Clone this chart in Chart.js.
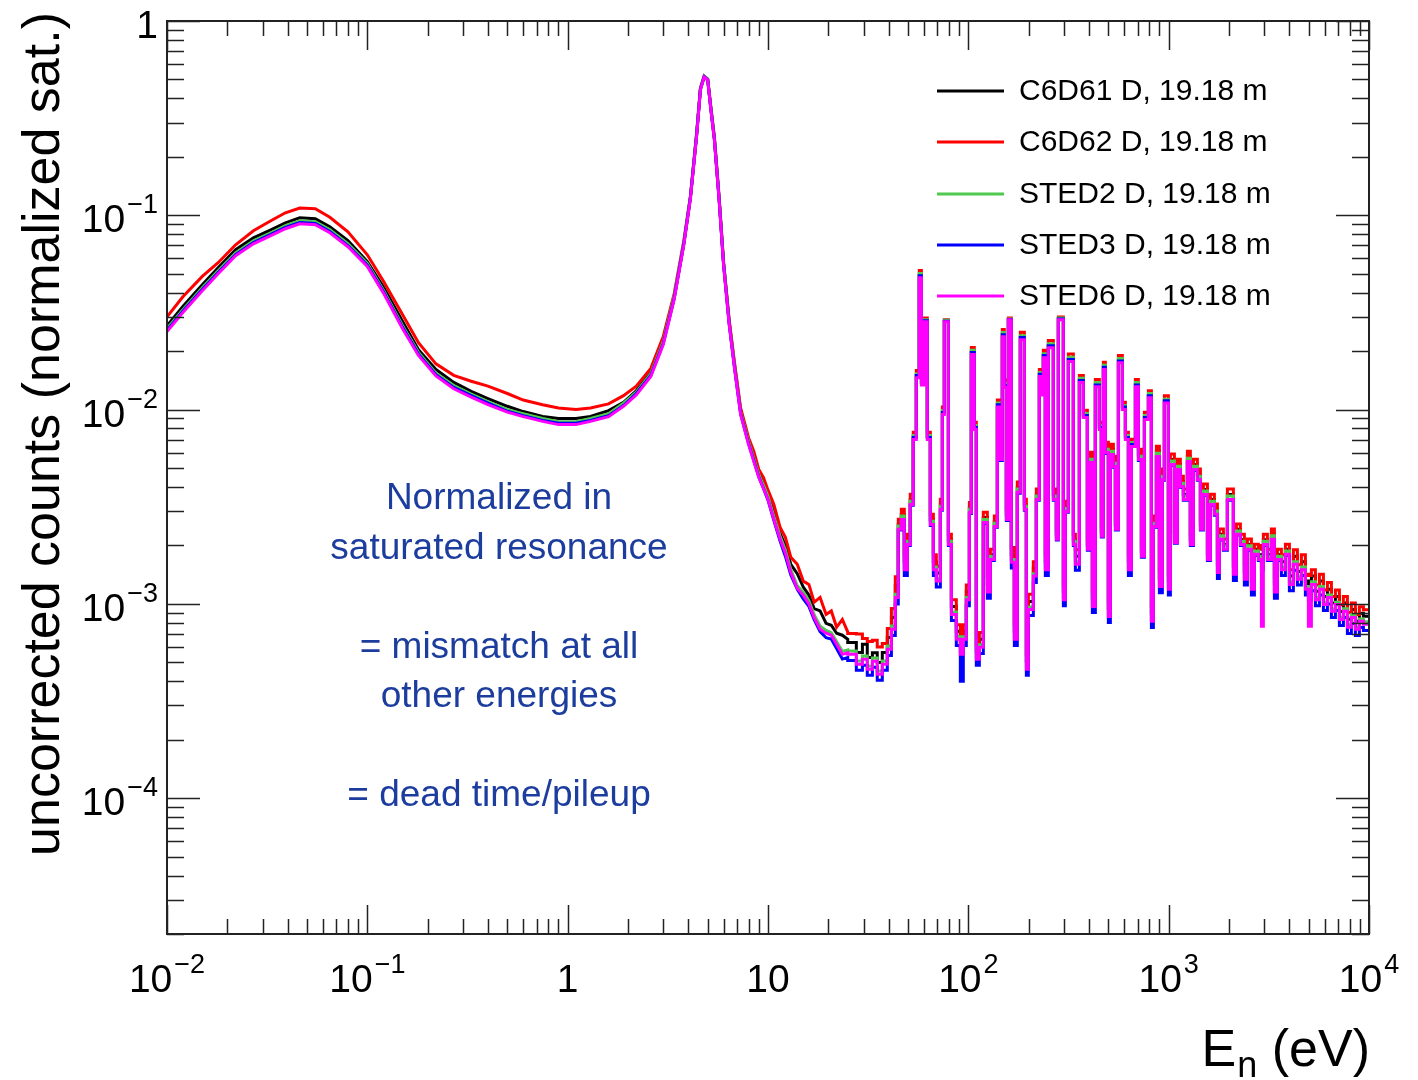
<!DOCTYPE html>
<html>
<head>
<meta charset="utf-8">
<title>uncorrected counts vs neutron energy</title>
<script src="https://cdn.jsdelivr.net/npm/chart.js@4.4.0/dist/chart.umd.min.js"></script>
<style>
  html, body { margin: 0; padding: 0; background: #ffffff; }
  #wrap { width: 1418px; height: 1080px; }
</style>
</head>
<body>
<div id="wrap"><canvas id="spectrum" width="1418" height="1080"></canvas></div>
<script>
// Smooth part of the spectrum (thermal bump + saturated 4.9 eV resonance), energies in eV
const smoothEnergy = [0.01, 0.012, 0.015, 0.018, 0.022, 0.027, 0.033, 0.039, 0.046, 0.055,
  0.065, 0.08, 0.1, 0.12, 0.15, 0.18, 0.22, 0.27, 0.33, 0.4,
  0.5, 0.6, 0.75, 0.9, 1.1, 1.3, 1.6, 1.9, 2.2, 2.6,
  3.0, 3.4, 3.8, 4.1, 4.4, 4.6, 4.8, 5.0, 5.2, 5.4,
  5.7, 6.0, 6.4, 6.8, 7.3,
  8.0, 8.5, 9, 9.5, 10, 10.7, 11.5, 12.2, 13, 14,
  15, 16, 17, 18.2, 19.5, 20.7, 22, 23.5, 25];

const smoothC6D61 = [0.0270, 0.0339, 0.0439, 0.0537, 0.0665, 0.0765, 0.0842, 0.0915, 0.0970, 0.0959,
  0.0874, 0.0740, 0.0578, 0.0430, 0.0284, 0.0203, 0.0161, 0.0138, 0.0124, 0.0114,
  0.0104, 0.00977, 0.00922, 0.00899, 0.00899, 0.00922, 0.00988, 0.0109, 0.0125, 0.0155,
  0.0224, 0.0377, 0.0713, 0.123, 0.257, 0.447, 0.515, 0.497, 0.345, 0.247,
  0.122, 0.0567, 0.0284, 0.0170, 0.00988,
  0.00690, 0.00573, 0.00475, 0.00416, 0.00366, 0.00295, 0.00230, 0.00200, 0.00160, 0.00143,
  0.00122, 0.00111, 0.000945, 0.00092, 0.000794, 0.000776, 0.000706, 0.00069, 0.000657];
const smoothC6D62 = [0.0300, 0.0381, 0.0485, 0.0570, 0.0705, 0.0832, 0.0937, 0.103, 0.109, 0.108,
  0.0977, 0.0823, 0.0626, 0.0460, 0.0308, 0.0221, 0.0172, 0.0150, 0.0140, 0.0132,
  0.0121, 0.0112, 0.0106, 0.0102, 0.0100, 0.0102, 0.0107, 0.0118, 0.0132, 0.0163,
  0.0238, 0.0394, 0.0740, 0.125, 0.263, 0.452, 0.521, 0.503, 0.353, 0.254,
  0.125, 0.0578, 0.0290, 0.0176, 0.0102,
  0.00717, 0.00609, 0.00491, 0.00447, 0.00385, 0.00325, 0.00247, 0.00221, 0.00174, 0.00160,
  0.00131, 0.00126, 0.00102, 0.00108, 0.000883, 0.00092, 0.000758, 0.000832, 0.000718];
const smoothSTED2 = [0.0261, 0.0327, 0.0424, 0.0518, 0.0641, 0.0739, 0.0813, 0.0884, 0.0938, 0.0926,
  0.0842, 0.0714, 0.0565, 0.0414, 0.0270, 0.0197, 0.0154, 0.0133, 0.0120, 0.0110,
  0.0100, 0.00953, 0.00901, 0.00867, 0.00867, 0.00901, 0.00953, 0.0108, 0.0123, 0.0153,
  0.0224, 0.0381, 0.0730, 0.126, 0.262, 0.454, 0.521, 0.503, 0.348, 0.250,
  0.123, 0.0570, 0.0281, 0.0168, 0.00967,
  0.00685, 0.00559, 0.00463, 0.00407, 0.00357, 0.00282, 0.00223, 0.00190, 0.00150, 0.00124,
  0.00115, 0.00104, 0.00088, 0.00077, 0.00073, 0.00071, 0.00064, 0.00057, 0.00058];
const smoothSTED3 = [0.0256, 0.0321, 0.0415, 0.0508, 0.0628, 0.0724, 0.0797, 0.0866, 0.0919, 0.0907,
  0.0825, 0.0699, 0.0553, 0.0406, 0.0265, 0.0193, 0.0151, 0.0130, 0.0118, 0.0108,
  0.0098, 0.0093, 0.0088, 0.0085, 0.0085, 0.0088, 0.0093, 0.0105, 0.0121, 0.0150,
  0.0219, 0.0373, 0.0715, 0.124, 0.258, 0.447, 0.518, 0.499, 0.344, 0.246,
  0.121, 0.0560, 0.0276, 0.0165, 0.00950,
  0.00668, 0.00545, 0.00450, 0.00392, 0.00342, 0.00268, 0.00210, 0.00176, 0.00141, 0.00119,
  0.00106, 0.00097, 0.00083, 0.00072, 0.00067, 0.00066, 0.00059, 0.00052, 0.00053];
const smoothSTED6 = [0.0252, 0.0316, 0.0409, 0.0500, 0.0619, 0.0713, 0.0785, 0.0853, 0.0905, 0.0894,
  0.0813, 0.0689, 0.0545, 0.0400, 0.0261, 0.0190, 0.0149, 0.0128, 0.0116, 0.0106,
  0.0097, 0.0092, 0.0087, 0.00837, 0.00837, 0.0087, 0.0092, 0.0104, 0.0119, 0.0148,
  0.0216, 0.0368, 0.0705, 0.122, 0.254, 0.442, 0.515, 0.497, 0.341, 0.244,
  0.120, 0.0556, 0.0274, 0.0164, 0.00943,
  0.00661, 0.00540, 0.00447, 0.00393, 0.00345, 0.00272, 0.00215, 0.00183, 0.00145, 0.00120,
  0.00111, 0.00100, 0.00085, 0.00074, 0.000706, 0.00069, 0.00062, 0.00055, 0.00056];

// Resolved resonance region: histogram bin edges (eV) and bin contents
const resonanceEdges = [25, 27.6, 29.6, 31.3, 33.2, 35.1, 37.2, 39.4, 41.3, 43.2,
  44.7, 46.3, 47.9, 49.6, 51.3, 53.1, 55.0, 56.9, 58.3, 60.3,
  62.4, 64.6, 66.9, 69.2, 72.5, 74.2, 75.9, 79.5, 82.3, 87.1,
  91.2, 94.4, 97.7, 101.2, 103.5, 107.1, 109.6, 113.5, 118.8, 124.4,
  128.8, 134.8, 139.6, 144.4, 147.8, 151.2, 154.8, 158.4, 163.9, 169.7,
  175.6, 181.8, 190.4, 194.8, 199.3, 211.1, 218.5, 226.2, 231.4, 236.8,
  242.3, 250.8, 265.7, 275.0, 281.4, 298.1, 305.0, 315.7, 334.4, 342.2,
  358.3, 375.1, 392.8, 401.9, 416.0, 430.6, 450.8, 461.3, 472.1, 483.1,
  500.0, 511.7, 529.7, 542.0, 561.1, 587.4, 608.1, 629.4, 651.5, 682.2,
  706.1, 730.9, 756.6, 792.1, 819.8, 838.9, 868.3, 898.8, 930.0, 951.7,
  996.6, 1020, 1068, 1105, 1144, 1184, 1240, 1283, 1329, 1391,
  1440, 1490, 1561, 1615, 1691, 1751, 1791, 1876, 1964, 2104,
  2178, 2280, 2387, 2471, 2588, 2679, 2804, 2903, 2970, 3110,
  3256, 3371, 3489, 3653, 3825, 4005, 4193, 4391, 4597, 4813,
  4983, 5158, 5401, 5655, 5921, 6199, 6491, 6796, 7115, 7450,
  7800, 8166, 8550, 8952, 9377, 10000];

const resC6D61 = [6.33e-4, 5.62e-4, 6.20e-4, 5.30e-4, 5.60e-4, 4.99e-4, 5.62e-4, 6.72e-4, 8.51e-4, 1.24e-3,
  2.57e-3, 2.88e-3, 1.65e-3, 2.14e-3, 3.45e-3, 7.22e-3, 1.50e-2, 4.91e-2, 1.38e-2, 2.88e-2,
  7.22e-3, 2.71e-3, 1.65e-3, 1.44e-3, 3.24e-3, 9.71e-3, 2.86e-2, 2.14e-3, 9.71e-4, 7.23e-4,
  6.05e-4, 7.23e-4, 1.16e-3, 3.13e-3, 1.98e-2, 8.13e-3, 5.71e-4, 6.58e-4, 2.78e-3, 1.27e-3,
  1.79e-3, 2.65e-3, 1.06e-2, 5.86e-3, 2.44e-2, 1.34e-2, 2.88e-3, 2.92e-2, 1.80e-3, 7.23e-4,
  3.98e-3, 2.36e-2, 3.24e-3, 5.07e-4, 1.03e-3, 1.53e-3, 3.66e-3, 1.52e-2, 1.23e-2, 1.91e-2,
  1.65e-3, 2.14e-2, 3.66e-3, 2.28e-3, 2.94e-2, 1.16e-3, 3.17e-3, 1.82e-2, 2.14e-3, 1.76e-3,
  1.42e-2, 9.37e-3, 2.02e-3, 5.66e-3, 1.07e-3, 1.35e-2, 8.13e-3, 2.36e-3, 1.66e-2, 6.37e-3,
  9.48e-4, 6.22e-3, 5.41e-3, 2.57e-3, 1.79e-2, 1.03e-2, 7.22e-3, 1.65e-3, 6.64e-3, 1.35e-2,
  5.86e-3, 1.87e-3, 9.15e-3, 1.18e-2, 8.94e-4, 2.65e-3, 6.07e-3, 1.35e-3, 4.63e-3, 1.11e-2,
  1.31e-3, 5.53e-3, 2.19e-3, 5.20e-3, 4.26e-3, 3.66e-3, 5.72e-3, 2.14e-3, 5.20e-3, 4.63e-3,
  2.57e-3, 3.88e-3, 1.79e-3, 3.45e-3, 3.06e-3, 1.60e-3, 2.28e-3, 2.02e-3, 3.66e-3, 1.56e-3,
  2.42e-3, 2.14e-3, 1.47e-3, 2.02e-3, 1.31e-3, 1.91e-3, 1.79e-3, 1.75e-3, 2.14e-3, 1.79e-3,
  2.28e-3, 1.27e-3, 1.79e-3, 1.65e-3, 1.91e-3, 1.39e-3, 1.76e-3, 1.47e-3, 1.65e-3, 1.31e-3,
  1.25e-3, 1.39e-3, 1.16e-3, 1.31e-3, 1.09e-3, 1.19e-3, 1.01e-3, 1.09e-3, 9.15e-4, 1.01e-3,
  8.34e-4, 9.37e-4, 8.14e-4, 8.94e-4, 8.64e-4];
const resC6D62 = [7.04e-4, 7.00e-4, 6.64e-4, 6.40e-4, 6.49e-4, 6.00e-4, 6.26e-4, 7.48e-4, 9.47e-4, 1.38e-3,
  2.73e-3, 3.07e-3, 1.79e-3, 2.28e-3, 3.67e-3, 7.64e-3, 1.59e-2, 5.20e-2, 1.46e-2, 2.96e-2,
  7.64e-3, 2.89e-3, 1.79e-3, 1.56e-3, 3.46e-3, 1.03e-2, 2.90e-2, 2.28e-3, 1.05e-3, 7.82e-4,
  6.55e-4, 7.82e-4, 1.25e-3, 3.33e-3, 2.09e-2, 8.60e-3, 6.18e-4, 7.12e-4, 2.96e-3, 1.37e-3,
  1.91e-3, 2.83e-3, 1.12e-2, 6.25e-3, 2.58e-2, 1.42e-2, 3.07e-3, 2.96e-2, 1.95e-3, 7.82e-4,
  4.24e-3, 2.50e-2, 3.46e-3, 5.49e-4, 1.12e-3, 1.65e-3, 3.90e-3, 1.61e-2, 1.30e-2, 2.02e-2,
  1.79e-3, 2.27e-2, 3.90e-3, 2.43e-3, 3.00e-2, 1.25e-3, 3.38e-3, 1.93e-2, 2.28e-3, 1.90e-3,
  1.50e-2, 9.92e-3, 2.16e-3, 6.03e-3, 1.16e-3, 1.43e-2, 8.60e-3, 2.52e-3, 1.75e-2, 6.79e-3,
  1.03e-3, 6.63e-3, 5.76e-3, 2.73e-3, 1.90e-2, 1.09e-2, 7.64e-3, 1.79e-3, 7.03e-3, 1.43e-2,
  6.25e-3, 1.99e-3, 9.68e-3, 1.25e-2, 9.67e-4, 2.83e-3, 6.47e-3, 1.46e-3, 4.94e-3, 1.18e-2,
  1.42e-3, 5.90e-3, 2.34e-3, 5.55e-3, 4.54e-3, 3.90e-3, 6.10e-3, 2.28e-3, 5.55e-3, 4.94e-3,
  2.73e-3, 4.14e-3, 1.91e-3, 3.67e-3, 3.27e-3, 1.73e-3, 2.43e-3, 2.16e-3, 3.90e-3, 1.69e-3,
  2.58e-3, 2.28e-3, 1.59e-3, 2.16e-3, 1.42e-3, 2.03e-3, 1.91e-3, 2.00e-3, 2.28e-3, 1.91e-3,
  2.43e-3, 1.37e-3, 1.91e-3, 1.79e-3, 2.03e-3, 1.50e-3, 1.90e-3, 1.59e-3, 1.79e-3, 1.42e-3,
  1.40e-3, 1.50e-3, 1.25e-3, 1.42e-3, 1.18e-3, 1.29e-3, 1.09e-3, 1.18e-3, 9.90e-4, 1.09e-3,
  9.02e-4, 1.01e-3, 8.81e-4, 9.67e-4, 9.34e-4];
const resSTED2 = [5.72e-4, 5.09e-4, 5.40e-4, 4.79e-4, 5.27e-4, 4.51e-4, 5.09e-4, 6.07e-4, 7.70e-4, 1.12e-3,
  2.52e-3, 2.83e-3, 1.55e-3, 2.10e-3, 3.38e-3, 7.36e-3, 1.53e-2, 5.01e-2, 1.41e-2, 2.90e-2,
  7.36e-3, 2.66e-3, 1.55e-3, 1.35e-3, 3.18e-3, 9.90e-3, 2.88e-2, 2.10e-3, 9.09e-4, 6.77e-4,
  5.67e-4, 6.77e-4, 1.08e-3, 3.07e-3, 2.02e-2, 8.28e-3, 5.35e-4, 6.16e-4, 2.72e-3, 1.18e-3,
  1.76e-3, 2.60e-3, 1.08e-2, 5.75e-3, 2.49e-2, 1.37e-2, 2.83e-3, 2.93e-2, 1.69e-3, 6.77e-4,
  3.90e-3, 2.40e-2, 3.18e-3, 4.75e-4, 9.65e-4, 1.43e-3, 3.59e-3, 1.55e-2, 1.25e-2, 1.94e-2,
  1.55e-3, 2.18e-2, 3.59e-3, 2.24e-3, 2.96e-2, 1.08e-3, 3.11e-3, 1.86e-2, 2.10e-3, 1.65e-3,
  1.45e-2, 9.56e-3, 1.99e-3, 5.55e-3, 1.00e-3, 1.38e-2, 8.28e-3, 2.32e-3, 1.69e-2, 6.25e-3,
  8.88e-4, 6.10e-3, 5.30e-3, 2.52e-3, 1.83e-2, 1.05e-2, 7.36e-3, 1.55e-3, 6.77e-3, 1.38e-2,
  5.75e-3, 1.83e-3, 9.32e-3, 1.21e-2, 8.37e-4, 2.60e-3, 5.96e-3, 1.27e-3, 4.54e-3, 1.13e-2,
  1.23e-3, 5.43e-3, 2.15e-3, 5.11e-3, 4.18e-3, 3.59e-3, 5.62e-3, 2.10e-3, 5.11e-3, 4.54e-3,
  2.52e-3, 3.81e-3, 1.76e-3, 3.38e-3, 3.01e-3, 1.49e-3, 2.24e-3, 1.99e-3, 3.59e-3, 1.46e-3,
  2.37e-3, 2.10e-3, 1.38e-3, 1.99e-3, 1.23e-3, 1.87e-3, 1.76e-3, 1.65e-3, 2.10e-3, 1.76e-3,
  2.24e-3, 1.18e-3, 1.76e-3, 1.55e-3, 1.87e-3, 1.30e-3, 1.65e-3, 1.38e-3, 1.55e-3, 1.23e-3,
  1.18e-3, 1.30e-3, 1.08e-3, 1.23e-3, 1.02e-3, 1.11e-3, 9.43e-4, 1.02e-3, 8.57e-4, 9.43e-4,
  7.81e-4, 8.78e-4, 7.62e-4, 8.37e-4, 8.09e-4];
const resSTED3 = [5.12e-4, 4.55e-4, 4.83e-4, 4.29e-4, 4.72e-4, 4.04e-4, 4.55e-4, 5.43e-4, 6.88e-4, 1.00e-3,
  2.40e-3, 2.69e-3, 1.40e-3, 2.00e-3, 3.22e-3, 7.19e-3, 1.50e-2, 4.89e-2, 1.37e-2, 2.87e-2,
  7.19e-3, 2.53e-3, 1.40e-3, 1.22e-3, 3.03e-3, 9.67e-3, 2.85e-2, 2.00e-3, 8.21e-4, 6.11e-4,
  4.00e-4, 6.11e-4, 9.77e-4, 2.92e-3, 1.97e-2, 8.09e-3, 4.83e-4, 5.56e-4, 2.59e-3, 1.07e-3,
  1.67e-3, 2.48e-3, 1.06e-2, 5.47e-3, 2.43e-2, 1.33e-2, 2.69e-3, 2.91e-2, 1.53e-3, 6.11e-4,
  3.71e-3, 2.35e-2, 3.03e-3, 4.29e-4, 8.71e-4, 1.29e-3, 3.42e-3, 1.52e-2, 1.22e-2, 1.90e-2,
  1.40e-3, 2.13e-2, 3.42e-3, 2.13e-3, 2.93e-2, 9.77e-4, 2.96e-3, 1.81e-2, 2.00e-3, 1.49e-3,
  1.41e-2, 9.33e-3, 1.89e-3, 5.29e-3, 9.03e-4, 1.34e-2, 8.09e-3, 2.21e-3, 1.65e-2, 5.95e-3,
  8.02e-4, 5.81e-3, 5.05e-3, 2.40e-3, 1.78e-2, 1.03e-2, 7.19e-3, 1.40e-3, 6.61e-3, 1.34e-2,
  5.47e-3, 1.74e-3, 9.10e-3, 1.18e-2, 7.56e-4, 2.48e-3, 5.67e-3, 1.14e-3, 4.33e-3, 1.11e-2,
  1.11e-3, 5.17e-3, 2.05e-3, 4.86e-3, 3.98e-3, 3.42e-3, 5.35e-3, 2.00e-3, 4.86e-3, 4.33e-3,
  2.40e-3, 3.62e-3, 1.67e-3, 3.22e-3, 2.86e-3, 1.35e-3, 2.13e-3, 1.89e-3, 3.42e-3, 1.32e-3,
  2.26e-3, 2.00e-3, 1.25e-3, 1.89e-3, 1.11e-3, 1.78e-3, 1.67e-3, 1.50e-3, 2.00e-3, 1.67e-3,
  2.13e-3, 1.07e-3, 1.67e-3, 1.40e-3, 1.78e-3, 1.17e-3, 1.49e-3, 1.25e-3, 1.40e-3, 1.11e-3,
  1.05e-3, 1.17e-3, 9.77e-4, 1.11e-3, 9.24e-4, 1.00e-3, 8.52e-4, 9.24e-4, 7.74e-4, 8.52e-4,
  7.05e-4, 7.92e-4, 6.88e-4, 7.56e-4, 7.30e-4];
const resSTED6 = [5.50e-4, 4.89e-4, 5.19e-4, 4.61e-4, 5.07e-4, 4.34e-4, 4.89e-4, 5.84e-4, 7.40e-4, 1.08e-3,
  2.42e-3, 2.72e-3, 1.50e-3, 2.02e-3, 3.25e-3, 7.01e-3, 1.46e-2, 4.77e-2, 1.34e-2, 2.83e-2,
  7.01e-3, 2.56e-3, 1.50e-3, 1.31e-3, 3.06e-3, 9.43e-3, 2.83e-2, 2.02e-3, 8.83e-4, 6.57e-4,
  5.50e-4, 6.57e-4, 1.05e-3, 2.95e-3, 1.92e-2, 7.89e-3, 5.19e-4, 5.98e-4, 2.62e-3, 1.15e-3,
  1.69e-3, 2.50e-3, 1.03e-2, 5.53e-3, 2.37e-2, 1.30e-2, 2.72e-3, 2.90e-2, 1.64e-3, 6.57e-4,
  3.75e-3, 2.29e-2, 3.06e-3, 4.61e-4, 9.37e-4, 1.39e-3, 3.45e-3, 1.48e-2, 1.19e-2, 1.85e-2,
  1.50e-3, 2.08e-2, 3.45e-3, 2.15e-3, 2.90e-2, 1.05e-3, 2.99e-3, 1.77e-2, 2.02e-3, 1.60e-3,
  1.38e-2, 9.10e-3, 1.91e-3, 5.34e-3, 9.71e-4, 1.31e-2, 7.89e-3, 2.23e-3, 1.61e-2, 6.01e-3,
  8.62e-4, 5.87e-3, 5.10e-3, 2.42e-3, 1.74e-2, 1.00e-2, 7.01e-3, 1.50e-3, 6.45e-3, 1.31e-2,
  5.53e-3, 1.76e-3, 8.88e-3, 1.15e-2, 8.13e-4, 2.50e-3, 5.73e-3, 1.23e-3, 4.37e-3, 1.08e-2,
  1.19e-3, 5.22e-3, 2.07e-3, 4.91e-3, 4.02e-3, 3.45e-3, 5.40e-3, 2.02e-3, 4.91e-3, 4.37e-3,
  2.42e-3, 3.66e-3, 1.69e-3, 3.25e-3, 2.89e-3, 1.45e-3, 2.15e-3, 1.91e-3, 3.45e-3, 1.42e-3,
  2.28e-3, 2.02e-3, 1.34e-3, 1.91e-3, 1.19e-3, 1.80e-3, 1.69e-3, 7.67e-4, 2.02e-3, 1.69e-3,
  2.15e-3, 1.15e-3, 1.69e-3, 1.50e-3, 1.80e-3, 1.26e-3, 1.60e-3, 1.34e-3, 1.50e-3, 1.19e-3,
  7.67e-4, 1.26e-3, 1.05e-3, 1.19e-3, 9.94e-4, 1.08e-3, 9.16e-4, 9.94e-4, 8.32e-4, 9.16e-4,
  7.58e-4, 8.52e-4, 7.40e-4, 8.13e-4, 7.85e-4];

const detectorLabels = ['C6D61 D, 19.18 m', 'C6D62 D, 19.18 m', 'STED2 D, 19.18 m', 'STED3 D, 19.18 m', 'STED6 D, 19.18 m'];
const detectorColors = ['#000000', '#ff0000', '#4fc94f', '#0000ff', '#ff00ff'];
const smoothSets = [smoothC6D61, smoothC6D62, smoothSTED2, smoothSTED3, smoothSTED6];
const resonanceSets = [resC6D61, resC6D62, resSTED2, resSTED3, resSTED6];

// axis decades and their labels (mantissa, exponent)
const xDecades = [0.01, 0.1, 1, 10, 100, 1000, 10000];
const xDecadeLabels = [['10', '\u22122'], ['10', '\u22121'], ['1', ''], ['10', ''], ['10', '2'], ['10', '3'], ['10', '4']];
const yDecades = [1e-4, 1e-3, 1e-2, 1e-1, 1];
const yDecadeLabels = [['10', '\u22124'], ['10', '\u22123'], ['10', '\u22122'], ['10', '\u22121'], ['1', '']];

const noteLines = ['Normalized in', 'saturated resonance', '', '= mismatch at all', 'other energies', '', '= dead time/pileup'];

const FONT = '"Liberation Sans", Arial, Helvetica, sans-serif';

// smooth points first, then each histogram bin as a flat step
function buildSeries(smooth, binned) {
  const pts = smoothEnergy.map((e, i) => ({ x: e, y: smooth[i] }));
  binned.forEach((v, i) => {
    pts.push({ x: resonanceEdges[i], y: v });
    pts.push({ x: resonanceEdges[i + 1], y: v });
  });
  return pts;
}

function drawPower(ctx, mant, exp, x, y, align) {
  ctx.font = '39px ' + FONT;
  const wm = ctx.measureText(mant).width;
  ctx.font = '27px ' + FONT;
  const we = exp ? ctx.measureText(exp).width + 2 : 0;
  const total = wm + we;
  let x0 = x;
  if (align === 'center') x0 = x - total / 2;
  else if (align === 'right') x0 = x - total;
  ctx.textAlign = 'left';
  ctx.textBaseline = 'alphabetic';
  ctx.font = '39px ' + FONT;
  ctx.fillText(mant, x0, y);
  if (exp) {
    ctx.font = '27px ' + FONT;
    ctx.fillText(exp, x0 + wm + 2, y - 19);
  }
}

// frame, ticks, labels, legend and annotation drawn in ROOT style
const rootStyle = {
  id: 'rootStyle',
  afterDraw(chart) {
    const ctx = chart.ctx;
    const xs = chart.scales.x, ys = chart.scales.y;
    const { left, right, top, bottom } = chart.chartArea;
    ctx.save();
    ctx.fillStyle = '#000';
    ctx.strokeStyle = '#222';

    // minor + major ticks on all four sides
    ctx.lineWidth = 1.5;
    ctx.beginPath();
    for (let d = -2; d <= 4; d++) {
      for (let k = 1; k <= 9; k++) {
        const v = k * Math.pow(10, d);
        if (v > 10000 * 1.0001) continue;
        const px = Math.round(xs.getPixelForValue(v)) + 0.5;
        const len = k === 1 ? 29 : 15;
        ctx.moveTo(px, bottom); ctx.lineTo(px, bottom - len);
        ctx.moveTo(px, top); ctx.lineTo(px, top + len);
      }
    }
    for (let d = -5; d <= 0; d++) {
      for (let k = 1; k <= 9; k++) {
        const v = k * Math.pow(10, d);
        if (v < 2e-5 * 0.9999 || v > 1.0001) continue;
        const py = Math.round(ys.getPixelForValue(v)) + 0.5;
        const len = k === 1 ? 33 : 17;
        ctx.moveTo(left, py); ctx.lineTo(left + len, py);
        ctx.moveTo(right, py); ctx.lineTo(right - len, py);
      }
    }
    ctx.stroke();

    ctx.lineWidth = 2;
    ctx.strokeRect(left, top, right - left, bottom - top);

    // tick labels
    xDecades.forEach((v, i) => {
      drawPower(ctx, xDecadeLabels[i][0], xDecadeLabels[i][1], xs.getPixelForValue(v), 992, 'center');
    });
    yDecades.forEach((v, i) => {
      drawPower(ctx, yDecadeLabels[i][0], yDecadeLabels[i][1], 158, ys.getPixelForValue(v) + 17, 'right');
    });

    // y title
    ctx.save();
    ctx.translate(59, 12);
    ctx.rotate(-Math.PI / 2);
    ctx.font = '52px ' + FONT;
    ctx.textAlign = 'right';
    ctx.textBaseline = 'alphabetic';
    ctx.fillText('uncorrected counts (normalized sat.)', 0, 0);
    ctx.restore();

    // x title E_n (eV)
    ctx.textAlign = 'left';
    ctx.textBaseline = 'alphabetic';
    ctx.font = '52px ' + FONT;
    const wE = ctx.measureText('E').width;
    const wRest = ctx.measureText(' (eV)').width;
    ctx.font = '36px ' + FONT;
    const wn = ctx.measureText('n').width;
    let tx = right - (wE + wn + wRest);
    ctx.font = '52px ' + FONT;
    ctx.fillText('E', tx, 1066);
    ctx.font = '36px ' + FONT;
    ctx.fillText('n', tx + wE + 1, 1077);
    ctx.font = '52px ' + FONT;
    ctx.fillText(' (eV)', tx + wE + wn + 1, 1066);

    // legend
    const legendY = [91, 142, 194, 245, 296];
    detectorLabels.forEach((label, i) => {
      ctx.strokeStyle = detectorColors[i];
      ctx.lineWidth = 3;
      ctx.beginPath();
      ctx.moveTo(937, legendY[i]);
      ctx.lineTo(1004, legendY[i]);
      ctx.stroke();
      ctx.fillStyle = '#000';
      ctx.font = '30px ' + FONT;
      ctx.textAlign = 'left';
      ctx.textBaseline = 'middle';
      ctx.fillText(label, 1019, legendY[i] + 1);
    });

    // annotation
    ctx.fillStyle = '#1c3d9e';
    ctx.font = '37px ' + FONT;
    ctx.textAlign = 'center';
    ctx.textBaseline = 'middle';
    noteLines.forEach((line, i) => {
      if (line) ctx.fillText(line, 499, 499 + i * 49.5);
    });
    ctx.restore();
  }
};

new Chart(document.getElementById('spectrum'), {
  type: 'scatter',
  data: {
    datasets: detectorLabels.map((label, i) => ({
      label: label,
      data: buildSeries(smoothSets[i], resonanceSets[i]),
      borderColor: detectorColors[i],
      backgroundColor: detectorColors[i],
      borderWidth: 3,
      pointRadius: 0,
      showLine: true,
      fill: false,
      tension: 0,
      borderJoinStyle: 'miter',
      order: 4 - i
    }))
  },
  options: {
    responsive: false,
    animation: false,
    devicePixelRatio: 1,
    layout: { padding: { left: 167, top: 21, right: 49, bottom: 146 } },
    scales: {
      x: { type: 'logarithmic', min: 0.01, max: 10000, display: false },
      y: { type: 'logarithmic', min: 2e-5, max: 1, display: false }
    },
    plugins: {
      legend: { display: false },
      tooltip: { enabled: false }
    }
  },
  plugins: [rootStyle]
});
</script>
</body>
</html>
